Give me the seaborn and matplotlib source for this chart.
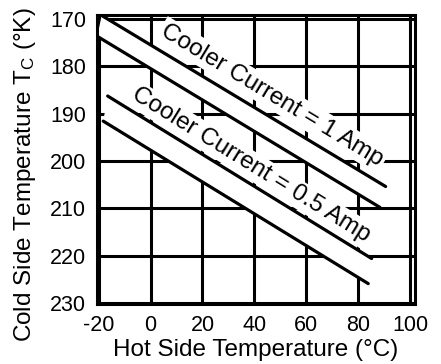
import numpy as np
import pandas as pd
import matplotlib
matplotlib.use("Agg")
import matplotlib.pyplot as plt
import seaborn as sns

# ---- data ----
hot_1a_upper = [-18.8, 90.5]
cold_1a_upper = [169.3, 205.4]
hot_1a_lower = [-20.5, 88.3]
cold_1a_lower = [173.7, 209.8]
hot_05_upper = [-16.5, 85.1]
cold_05_upper = [186.3, 220.6]
hot_05_lower = [-18.2, 83.8]
cold_05_lower = [191.6, 225.9]

x_ticks = [-20, 0, 20, 40, 60, 80, 100]
y_ticks = [170, 180, 190, 200, 210, 220, 230]
label_1a = "Cooler Current = 1 Amp"
label_05 = "Cooler Current = 0.5 Amp"
label_1a_pos = (46.9, 186.1)
label_05_pos = (38.7, 200.9)

sns.set_theme(style="white")
plt.rcParams["font.family"] = ["Liberation Sans", "DejaVu Sans"]
plt.rcParams["mathtext.fontset"] = "custom"
plt.rcParams["mathtext.rm"] = "Liberation Sans"
plt.rcParams["mathtext.it"] = "Liberation Sans"

fig = plt.figure(figsize=(4.41, 3.64), dpi=100)
ax = fig.add_axes([97 / 441, 1 - 304 / 364, (415 - 97) / 441, (304 - 15) / 364])

df = pd.concat([
    pd.DataFrame({"hot": hot_1a_upper, "cold": cold_1a_upper, "line": "1a_u"}),
    pd.DataFrame({"hot": hot_1a_lower, "cold": cold_1a_lower, "line": "1a_l"}),
    pd.DataFrame({"hot": hot_05_upper, "cold": cold_05_upper, "line": "05_u"}),
    pd.DataFrame({"hot": hot_05_lower, "cold": cold_05_lower, "line": "05_l"}),
], ignore_index=True)

ax.set_xlim(-20.6, 101.8)
ax.set_ylim(230.2, 169.2)

# grid
ax.set_xticks(x_ticks)
ax.set_yticks(y_ticks)
ax.grid(True, color="black", linewidth=2.2)
ax.set_axisbelow(True)

# white band interiors (mask grid)
for (xu, yu, xl, yl) in [(hot_1a_upper, cold_1a_upper, hot_1a_lower, cold_1a_lower),
                         (hot_05_upper, cold_05_upper, hot_05_lower, cold_05_lower)]:
    xs = list(xu) + list(xl)[::-1]
    ys = list(yu) + list(yl)[::-1]
    ax.fill(xs, ys, color="white", linewidth=0, zorder=2)

sns.lineplot(data=df, x="hot", y="cold", units="line", estimator=None,
             color="black", linewidth=2.3, sort=False, ax=ax, zorder=3)

# rotation angle from line slope in display space
def angle(xs, ys):
    p0 = ax.transData.transform((xs[0], ys[0]))
    p1 = ax.transData.transform((xs[1], ys[1]))
    return np.degrees(np.arctan2(p1[1] - p0[1], p1[0] - p0[0]))

for txt, pos, (xs, ys) in [(label_1a, label_1a_pos, (hot_1a_upper, cold_1a_upper)),
                           (label_05, label_05_pos, (hot_05_upper, cold_05_upper))]:
    ax.text(pos[0], pos[1], txt, rotation=angle(xs, ys), rotation_mode="anchor",
            ha="center", va="center", fontsize=17.5, color="black", zorder=4,
            bbox=dict(facecolor="white", edgecolor="none", pad=2))

for s in ax.spines.values():
    s.set_visible(True)
    s.set_color("black")
    s.set_linewidth(2.2)

ax.tick_params(axis="both", length=0, pad=8, labelsize=15.5, colors="black")
ax.set_xticklabels([str(v) for v in x_ticks])
ax.set_yticklabels([str(v) for v in y_ticks])

ax.set_xlabel("Hot Side Temperature (°C)", fontsize=17.5, color="black")
ax.set_ylabel(r"Cold Side Temperature T$_\mathregular{C}$ (°K)", fontsize=17.5, color="black")
ax.xaxis.set_label_coords(0.5, (304 - 350) / 289)
ax.xaxis.label.set_va("center")
ax.yaxis.set_label_coords((25 - 97) / 318, (304 - 175) / 289)
ax.yaxis.label.set_va("center")

fig.savefig("out.png", dpi=100, facecolor="white")
